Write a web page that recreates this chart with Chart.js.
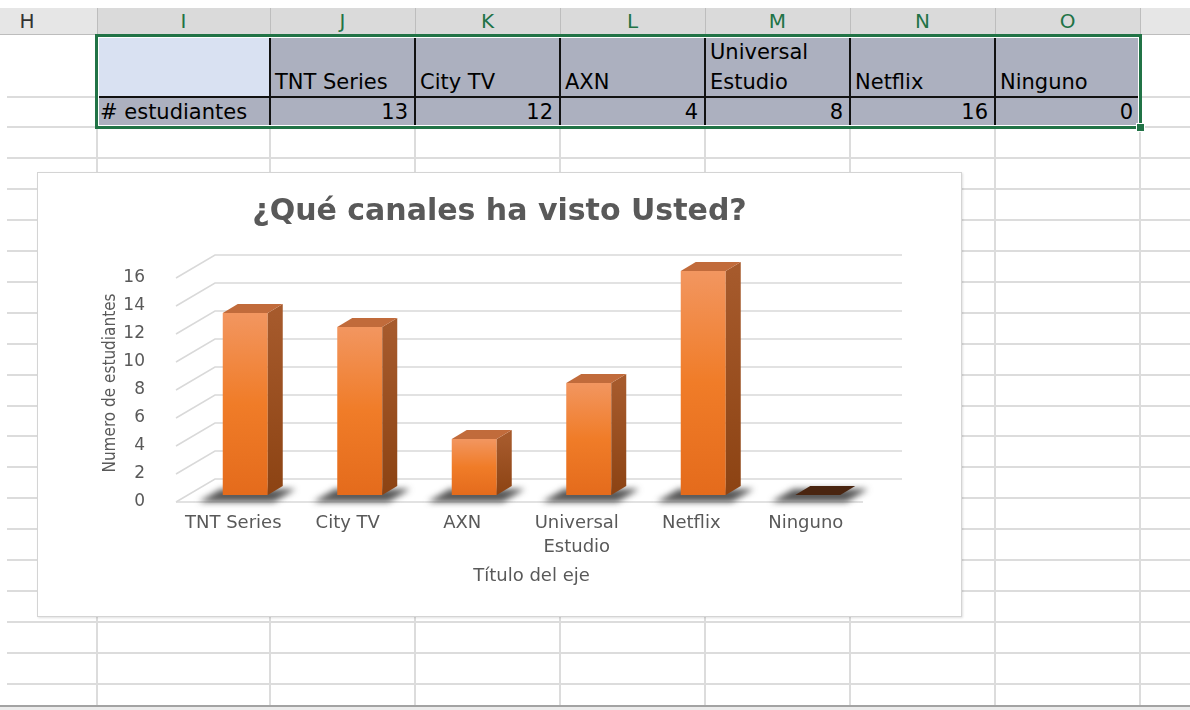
<!DOCTYPE html>
<html>
<head>
<meta charset="utf-8">
<script src="https://cdn.jsdelivr.net/npm/chart.js@4.4.1/dist/chart.umd.min.js"></script>
<style>
  html, body { margin: 0; padding: 0; background: #fff; }
  body { width: 1190px; height: 710px; position: relative; overflow: hidden; font-family: "DejaVu Sans", sans-serif; }
  #hoja { position: absolute; left: 0; top: 0; width: 1190px; height: 710px; }
  .celda { position: absolute; box-sizing: border-box; font-size: 21px; color: #000; white-space: normal; overflow: hidden; }
  #cajaGrafico { position: absolute; left: 37px; top: 172px; width: 925px; height: 445px; box-sizing: border-box;
    background: #fff; border: 1px solid #d4d4d4; box-shadow: 1px 1px 2px rgba(0,0,0,0.12); z-index: 5; }
  #grafico { position: absolute; left: 0; top: 0; }
</style>
</head>
<body>
<div id="hoja"></div>
<div id="cajaGrafico"><canvas id="grafico" width="923" height="443"></canvas></div>

<script>
// datos de la tabla / gráfico
const categorias = ['TNT Series', 'City TV', 'AXN', 'Universal Estudio', 'Netflix', 'Ninguno'];
const estudiantes = [13, 12, 4, 8, 16, 0];
const ticksY = [0, 2, 4, 6, 8, 10, 12, 14, 16];
const letrasCol = ['H', 'I', 'J', 'K', 'L', 'M', 'N', 'O'];
const etiquetaFila = '# estudiantes';

// bordes de columnas y filas de la hoja (px)
const bordesCol = [97, 270, 415, 560, 705, 850, 995, 1140];
const altoFila = 30.95;

const hoja = document.getElementById('hoja');
function caja(x, y, w, h, estilo) {
    const d = document.createElement('div');
    d.style.cssText = `position:absolute;left:${x}px;top:${y}px;width:${w}px;height:${h}px;${estilo || ''}`;
    hoja.appendChild(d);
    return d;
}

// cuadrícula
const lineasFila = [97, 127];
for (let y = 127 + altoFila; y < 700; y += altoFila) lineasFila.push(Math.round(y));
lineasFila.forEach(y => caja(7, y - 1, 1183, 2, 'background:#dcdcdc'));
bordesCol.forEach(x => caja(x - 1, 35, 2, 671, 'background:#dcdcdc'));
caja(0, 705, 1190, 2, 'background:#a3a3a3');
caja(0, 707, 1190, 3, 'background:#ececec');

// encabezados de columna
caja(0, 8, 1190, 27, 'background:#e6e6e6;border-bottom:1px solid #bdbdbd;box-sizing:border-box');
caja(97, 8, 1043, 27, 'background:#dadada');
bordesCol.forEach(x => caja(x, 8, 1, 27, 'background:#bdbdbd'));
letrasCol.forEach((letra, i) => {
    const izq = i === 0 ? -43 : bordesCol[i - 1];
    const der = i === 0 ? 97 : bordesCol[i];
    const d = caja(izq, 8, der - izq, 27,
        `text-align:center;line-height:27px;font-size:20px;color:${i === 0 ? '#333' : '#217346'}`);
    d.textContent = letra;
});

// tabla de datos
const gris = '#acb0bf';
caja(97, 35, 173, 62, 'background:#d9e1f2');
const c0 = caja(97, 97, 173, 30, `background:${gris}`);
c0.className = 'celda';
c0.style.lineHeight = '30px';
c0.style.paddingLeft = '3px';
c0.textContent = etiquetaFila;

categorias.forEach((cat, i) => {
    const x = bordesCol[i + 1], w = bordesCol[i + 2] - x;
    const h = caja(x, 35, w, 62, `background:${gris};display:flex;flex-direction:column;justify-content:flex-end;line-height:30px;padding-left:5px`);
    h.className = 'celda';
    h.textContent = cat;
    const v = caja(x, 97, w, 30, `background:${gris};text-align:right;line-height:30px;padding-right:7px`);
    v.className = 'celda';
    v.textContent = estudiantes[i];
});
// bordes negros de celdas
bordesCol.slice(1, 7).forEach(x => caja(x - 1, 36, 2, 91, 'background:#111'));
caja(97, 96, 1043, 2, 'background:#111');
// selección verde
caja(95, 34, 1047, 95, 'border:3px solid #217346;box-sizing:border-box');
caja(98, 37, 1041, 89, 'border:1px solid #fff;box-sizing:border-box');
caja(1136, 123, 9, 9, 'background:#217346;border:1px solid #fff;box-sizing:border-box');

// ---- gráfico 3D ----
const PROF = { dx: 15, dy: 9 };      // profundidad de la barra
const FRENTE = { dx: -12, dy: 7 };   // borde delantero del piso
const FONDO = { dx: 27, dy: -16 };   // pared del fondo

function poligono(ctx, pts) {
    ctx.beginPath();
    ctx.moveTo(pts[0][0], pts[0][1]);
    pts.slice(1).forEach(p => ctx.lineTo(p[0], p[1]));
    ctx.closePath();
    ctx.fill();
}

function caraFrontal(c) {
    const chart = c.chart;
    if (!chart.chartArea || !chart.scales.y) return '#ed7d31';
    const y = chart.scales.y;
    const top = y.getPixelForValue(c.raw), base = y.getPixelForValue(0);
    if (base - top < 1) return '#ed7d31';
    const g = chart.ctx.createLinearGradient(0, top, 0, base);
    g.addColorStop(0, '#f29660');
    g.addColorStop(0.5, '#f07c28');
    g.addColorStop(1, '#e46b1c');
    return g;
}

const tresD = {
    id: 'tresD',
    beforeDatasetsDraw(chart) {
        const { ctx, chartArea: a } = chart;
        const y = chart.scales.y;
        ctx.save();
        ctx.strokeStyle = '#d9d9d9';
        ctx.lineWidth = 1.5;
        ticksY.forEach(v => {
            const py = y.getPixelForValue(v);
            ctx.beginPath();
            ctx.moveTo(a.left + FRENTE.dx, py + FRENTE.dy);
            ctx.lineTo(a.left + FONDO.dx, py + FONDO.dy);
            ctx.lineTo(a.right + FONDO.dx, py + FONDO.dy);
            ctx.stroke();
        });
        const p0 = y.getPixelForValue(0);
        ctx.beginPath();
        ctx.moveTo(a.left + FRENTE.dx, p0 + FRENTE.dy);
        ctx.lineTo(a.right + FRENTE.dx, p0 + FRENTE.dy);
        ctx.stroke();

        // sombras en el piso
        ctx.filter = 'blur(3px)';
        ctx.fillStyle = 'rgba(45,45,45,0.8)';
        chart.getDatasetMeta(0).data.forEach(bar => {
            const l = bar.x - bar.width / 2, r = bar.x + bar.width / 2, b = bar.base;
            poligono(ctx, [[l - 24, b + 7], [r + 6, b + 7], [r + 28, b - 6], [l - 2, b - 6]]);
        });
        ctx.restore();
    },
    afterDatasetsDraw(chart) {
        const ctx = chart.ctx;
        ctx.save();
        chart.getDatasetMeta(0).data.forEach(bar => {
            const l = bar.x - bar.width / 2, r = bar.x + bar.width / 2, t = bar.y, b = bar.base;
            const dx = PROF.dx, dy = PROF.dy;
            if (b - t > 0.5) {
                const g = ctx.createLinearGradient(0, t, 0, b);
                g.addColorStop(0, '#a65a2c');
                g.addColorStop(1, '#8c4313');
                ctx.fillStyle = g;
                poligono(ctx, [[r, t], [r + dx, t - dy], [r + dx, b - dy], [r, b]]);
                ctx.fillStyle = '#c16b3b';
                poligono(ctx, [[l, t], [l + dx, t - dy], [r + dx, t - dy], [r, t]]);
            } else {
                ctx.fillStyle = '#4a2510';
                poligono(ctx, [[l, b], [l + dx, b - dy], [r + dx, b - dy], [r, b]]);
            }
        });
        ctx.restore();
    }
};

const gris2 = '#595959';
const fuente = "'DejaVu Sans', sans-serif";

new Chart(document.getElementById('grafico'), {
    type: 'bar',
    data: {
        labels: categorias.map(c => c.length > 12 ? c.split(' ') : c),
        datasets: [{
            label: etiquetaFila,
            data: estudiantes,
            backgroundColor: caraFrontal,
            borderWidth: 0,
            barPercentage: 0.393,
            categoryPercentage: 1
        }]
    },
    options: {
        responsive: false,
        animation: false,
        devicePixelRatio: 1,
        layout: { padding: { left: 0, right: 0, top: 0, bottom: 29 } },
        plugins: {
            legend: { display: false },
            tooltip: { enabled: false },
            title: {
                display: true,
                text: '¿Qué canales ha visto Usted?',
                color: gris2,
                font: { family: fuente, size: 30, weight: 'bold' },
                padding: { top: 21, bottom: 41 }
            }
        },
        scales: {
            x: {
                grid: { display: false, drawTicks: false },
                border: { display: false },
                ticks: {
                    color: gris2,
                    font: { family: fuente, size: 18, lineHeight: 1.3 },
                    padding: 17,
                    labelOffset: -12,
                    maxRotation: 0,
                    autoSkip: false
                },
                title: {
                    display: true,
                    text: 'Título del eje',
                    color: gris2,
                    font: { family: fuente, size: 18 },
                    padding: 0
                },
                afterFit: s => { s.height = 92; }
            },
            y: {
                min: 0,
                max: 16,
                grid: { display: false, drawTicks: false },
                border: { display: false },
                ticks: {
                    stepSize: 2,
                    color: gris2,
                    font: { family: fuente, size: 17 },
                    padding: 43,
                    labelOffset: 7
                },
                title: {
                    display: true,
                    text: 'Numero de estudiantes',
                    color: gris2,
                    font: { family: "'DejaVu Sans Condensed', 'DejaVu Sans', sans-serif", size: 17 },
                    padding: { top: 62, bottom: 0 }
                },
                afterFit: s => { s.width = 150; }
            },
            margenDer: {
                type: 'linear',
                position: 'right',
                display: true,
                grid: { display: false, drawTicks: false },
                border: { display: false },
                ticks: { display: false },
                afterFit: s => { s.width = 86; }
            }
        }
    },
    plugins: [tresD]
});
</script>
</body>
</html>
